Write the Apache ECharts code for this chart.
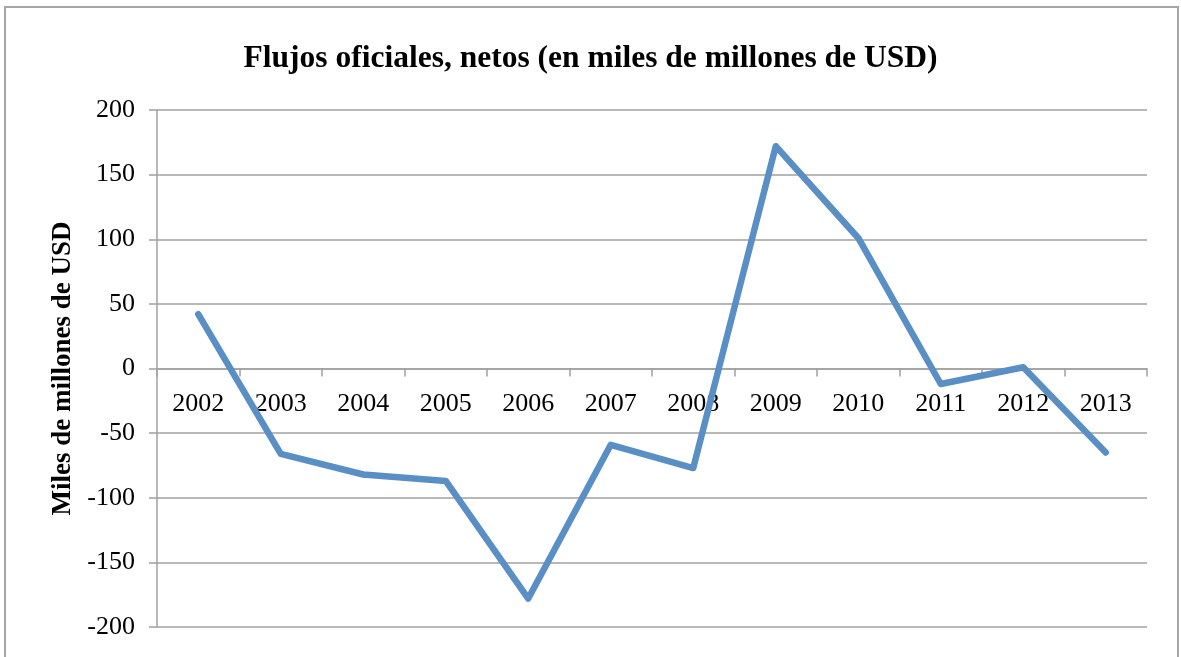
<!DOCTYPE html>
<html>
<head>
<meta charset="utf-8">
<style>
  html, body { margin: 0; padding: 0; background: #fff; }
  #chart { width: 1181px; height: 657px; }
</style>
<script src="https://cdn.jsdelivr.net/npm/echarts@6/dist/echarts.min.js"></script>
</head>
<body>
<div id="chart"></div>
<script>
const years = ['2002', '2003', '2004', '2005', '2006', '2007', '2008', '2009', '2010', '2011', '2012', '2013'];
const flows = [42, -66, -82, -87, -178, -59, -77, 172, 101, -12, 1, -65];
const yTicks = { min: -200, max: 200, interval: 50 };

const serif = '"Liberation Serif", "Times New Roman", serif';
const gridGray = '#a0a0a0';

// plot box, in px
const gridTop = 110, gridBottom = 30, chartH = 657;
const plotH = chartH - gridTop - gridBottom;
// distance from the bottom edge of the plot up to the zero line
const zeroLift = plotH * (0 - yTicks.min) / (yTicks.max - yTicks.min);

const chart = echarts.init(document.getElementById('chart'));
chart.setOption({
  animation: false,
  backgroundColor: '#fff',
  title: {
    text: 'Flujos oficiales, netos (en miles de millones de USD)',
    left: 'center',
    top: 38,
    textStyle: { fontFamily: serif, fontSize: 31.5, fontWeight: 'bold', color: '#000' }
  },
  graphic: [{
    type: 'rect',
    shape: { x: 5, y: 7, width: 1173, height: 700 },
    style: { fill: 'none', stroke: '#a6a6a6', lineWidth: 2 },
    silent: true
  }],
  grid: { left: 157, right: 34, top: gridTop, bottom: gridBottom },
  xAxis: [{
    type: 'category',
    data: years,
    boundaryGap: true,
    axisLine: { onZero: true, lineStyle: { color: gridGray, width: 1.5 } },
    axisTick: { show: true, interval: 0, length: 8, lineStyle: { color: gridGray, width: 1.5 } },
    axisLabel: { show: false },
    splitLine: { show: false }
  }, {
    // labels only, lifted to sit under the zero line
    type: 'category',
    data: years,
    position: 'bottom',
    offset: -zeroLift,
    boundaryGap: true,
    axisLine: { show: false },
    axisTick: { show: false },
    axisLabel: { interval: 0, margin: 23, fontFamily: serif, fontSize: 26, color: '#000' },
    splitLine: { show: false }
  }],
  yAxis: {
    type: 'value',
    min: yTicks.min,
    max: yTicks.max,
    interval: yTicks.interval,
    name: 'Miles de millones de USD',
    nameLocation: 'middle',
    nameGap: 80,
    nameTextStyle: { fontFamily: serif, fontSize: 27, fontWeight: 'bold', color: '#000' },
    axisLine: { show: true, lineStyle: { color: gridGray, width: 1.5 } },
    axisTick: { show: true, length: 8, lineStyle: { color: gridGray, width: 1.5 } },
    axisLabel: { margin: 22, fontFamily: serif, fontSize: 26, color: '#000' },
    splitLine: { show: true, lineStyle: { color: gridGray, width: 1.5 } }
  },
  series: [{
    type: 'line',
    xAxisIndex: 0,
    data: flows,
    showSymbol: false,
    symbol: 'none',
    lineStyle: { color: '#5a8fc6', width: 6.5, cap: 'round', join: 'round' },
    z: 5
  }]
});
</script>
</body>
</html>
